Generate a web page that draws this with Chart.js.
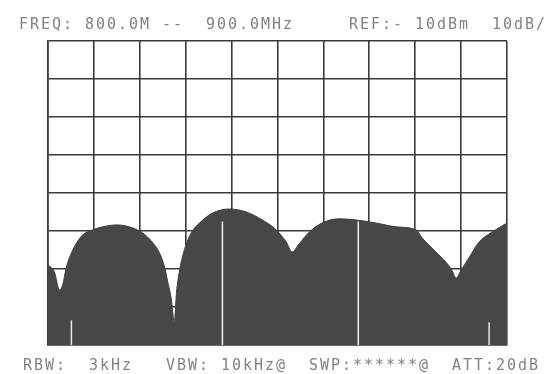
<!DOCTYPE html>
<html>
<head>
<meta charset="utf-8">
<script src="https://cdn.jsdelivr.net/npm/chart.js@4.4.1/dist/chart.umd.min.js"></script>
<style>
  html, body { margin: 0; padding: 0; background: #fff; }
  #wrap { position: relative; width: 545px; height: 374px; overflow: hidden; }
  .txt {
    position: absolute; left: 0; white-space: pre;
    font-family: "DejaVu Sans Mono", "Liberation Mono", monospace;
    font-size: 15px; letter-spacing: 1.97px; color: #828282; line-height: 16px;
  }
</style>
</head>
<body>
<div id="wrap">
  <canvas id="spectrum" width="545" height="374"></canvas>
  <div class="txt" id="topLine" style="left:19px; top:16px;"></div>
  <div class="txt" id="bottomLine" style="left:23px; top:357px;"></div>
</div>
<script>
// header / footer text of the analyzer printout
var topText = "FREQ: 800.0M --  900.0MHz     REF:- 10dBm  10dB/";
var bottomText = "RBW:  3kHz   VBW: 10kHz@  SWP:******@  ATT:20dB";

// axis ranges (MHz, dBm)
var freqTicks = [800, 810, 820, 830, 840, 850, 860, 870, 880, 890, 900];
var levelTicks = [-90, -80, -70, -60, -50, -40, -30, -20, -10];

// trace
var freqs = [800, 801.4, 802.5, 803.2, 804.0, 805.1, 806.2, 807.5, 809.7, 811.9, 814.9, 817.7, 820.6, 822.7, 824.3, 825.4, 826.0, 826.9, 827.5, 828.0, 828.6, 829.7, 831.2, 833.0, 835.8, 839.5, 843.2, 846.7, 849.7, 851.9, 853.2, 854.7, 856.9, 859.7, 863.4, 867.1, 871.5, 875.8, 880.2, 881.5, 884.5, 886.7, 888.0, 888.9, 890.0, 891.7, 893.9, 896.7, 900];
var levels = [-68.9, -70.8, -75.5, -74.2, -69.5, -65.8, -63.2, -61.1, -59.7, -58.9, -58.4, -58.9, -60.5, -62.9, -65.8, -69.5, -72.9, -78.2, -84.2, -76.1, -70.8, -65.0, -60.5, -57.9, -55.3, -54.2, -55.0, -57.1, -59.7, -62.9, -65.5, -63.4, -60.3, -57.9, -56.8, -57.1, -57.9, -58.9, -59.7, -61.8, -65.5, -68.2, -70.3, -72.4, -70.3, -67.1, -62.9, -60.3, -57.9];

// white marker lines inside the trace
var markerFreqs = [838.0, 867.6];
var markerTops = [-57.5, -57.5];
// small spikes near the floor
var spikeFreqs = [805.1, 896.1];
var spikeTops = [-83.5, -84.0];

document.getElementById('topLine').textContent = topText;
document.getElementById('bottomLine').textContent = bottomText;

var trace = freqs.map(function (f, i) { return { x: f, y: levels[i] }; });

var extra = [];
markerFreqs.forEach(function (f, i) {
  extra.push({
    data: [{ x: f, y: -90 }, { x: f, y: markerTops[i] }],
    borderColor: '#f4f4f4', borderWidth: 1.5, pointRadius: 0, fill: false
  });
});
spikeFreqs.forEach(function (f, i) {
  extra.push({
    data: [{ x: f, y: -90 }, { x: f, y: spikeTops[i] }],
    borderColor: '#e8e8e8', borderWidth: 1.5, pointRadius: 0, fill: false
  });
});

var ctx = document.getElementById('spectrum');
new Chart(ctx, {
  type: 'line',
  data: {
    datasets: extra.concat([{
      data: trace,
      borderColor: '#3f3f3f',
      borderWidth: 1,
      backgroundColor: '#474747',
      fill: 'start',
      pointRadius: 0,
      cubicInterpolationMode: 'monotone'
    }])
  },
  options: {
    responsive: false,
    animation: false,
    layout: { padding: { left: 48, right: 38, top: 41, bottom: 29 } },
    plugins: { legend: { display: false }, tooltip: { enabled: false } },
    scales: {
      x: {
        type: 'linear', min: 800, max: 900,
        afterBuildTicks: function (s) { s.ticks = freqTicks.map(function (v) { return { value: v }; }); },
        ticks: { display: false },
        grid: { color: '#3a3a3a', lineWidth: 1.6, drawTicks: false },
        border: { color: '#3a3a3a', width: 1.6 }
      },
      y: {
        type: 'linear', min: -90, max: -10,
        afterBuildTicks: function (s) { s.ticks = levelTicks.map(function (v) { return { value: v }; }); },
        ticks: { display: false },
        grid: { color: '#3a3a3a', lineWidth: 1.6, drawTicks: false },
        border: { color: '#3a3a3a', width: 1.6 }
      }
    }
  }
});
</script>
</body>
</html>
